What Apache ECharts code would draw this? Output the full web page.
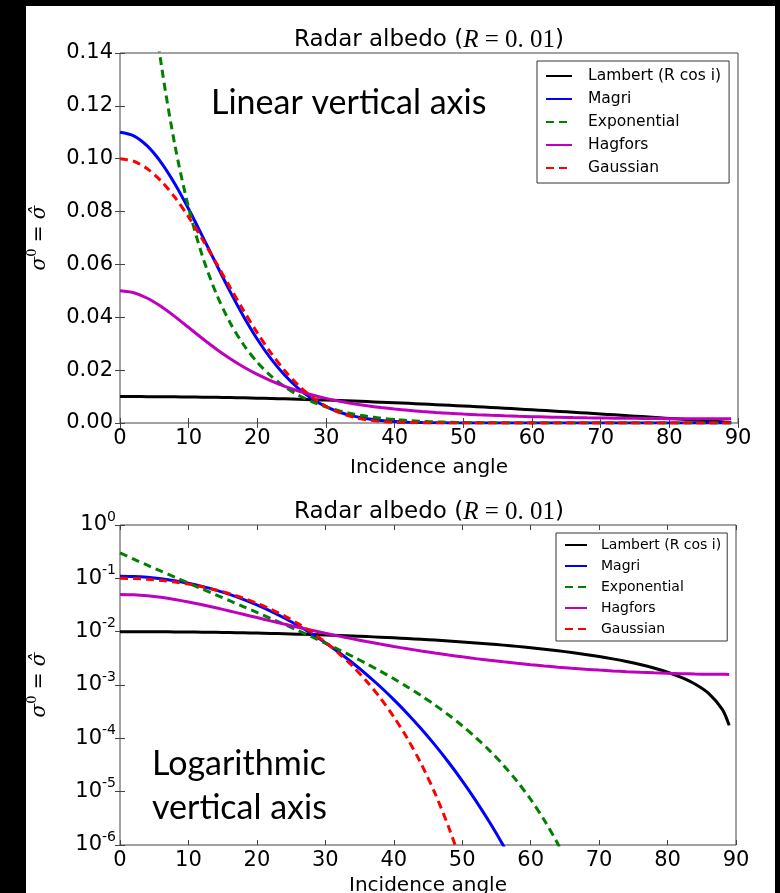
<!DOCTYPE html>
<html><head><meta charset="utf-8">
<script src="https://cdn.jsdelivr.net/npm/echarts@6/dist/echarts.min.js"></script>
<style>html,body{margin:0;padding:0;background:#000;} #c{width:780px;height:893px;}</style>
</head><body><div id="c"></div>
<script>
// Incidence angles (degrees) at which the curves were read
const angles = [0,2,4,6,8,10,12,14,16,18,20,22,24,26,28,30,32,34,36,38,40,42,44,46,48,50,52,54,56,58,60,62,64,66,68,70,72,74,76,78,80,82,84,86,88,89];
const lambert = [0.01,0.009994,0.009976,0.009945,0.009903,0.009848,0.009781,0.009703,0.009613,0.009511,0.009397,0.009272,0.009135,0.008988,0.008829,0.008660,0.008480,0.008290,0.008090,0.007880,0.007660,0.007431,0.007193,0.006947,0.006691,0.006428,0.006157,0.005878,0.005592,0.005299,0.005000,0.004695,0.004384,0.004067,0.003746,0.003420,0.003090,0.002756,0.002419,0.002079,0.001736,0.001392,0.001045,0.000698,0.000349,0.000175];
const magri = [0.11,0.10867,0.10476,0.09856,0.09046,0.08099,0.07071,0.06018,0.04991,0.04032,0.03170,0.02425,0.01803,0.01302,0.009121,0.006194,0.004072,0.002587,0.001587,0.0009374,0.0005325,0.0002902,0.0001513,7.53e-5,3.56e-5,1.595e-5,6.73e-6,2.66e-6,9.83e-7,3.36e-7,1.05e-7,2.98e-8,7.6e-9,0,0,0,0,0,0,0,0,0,0,0,0,0];
const exponential = [0.3,0.22946,0.17624,0.13587,0.10503,0.08138,0.06317,0.04907,0.03812,0.02960,0.02295,0.01775,0.01369,0.01051,0.008030,0.006092,0.004585,0.003418,0.002519,0.001831,0.001310,0.0009198,0.0006320,0.0004232,0.0002747,0.0001720,0.0001033,5.89e-5,3.16e-5,1.573e-5,7.15e-6,2.91e-6,1.03e-6,3.05e-7,7.2e-8,1.26e-8,1.46e-9,9.6e-11,0,0,0,0,0,0,0,0];
const hagfors = [0.05,0.049278,0.047215,0.044087,0.040264,0.036118,0.031959,0.028008,0.024393,0.021179,0.018369,0.015945,0.013872,0.012106,0.010605,0.009330,0.008245,0.007322,0.006534,0.005859,0.005280,0.004781,0.004350,0.003977,0.003652,0.003370,0.003123,0.002907,0.002717,0.002551,0.002405,0.002276,0.002163,0.002064,0.001977,0.001901,0.001836,0.001779,0.001730,0.001689,0.001655,0.001628,0.001607,0.001592,0.001584,0.001581];
const gaussian = [0.1,0.09903,0.09616,0.09153,0.08535,0.07791,0.06953,0.06059,0.05147,0.04253,0.03410,0.02645,0.01978,0.01420,0.009736,0.006343,0.003894,0.002238,0.001190,0.0005793,0.0002541,9.88e-5,3.33e-5,9.46e-6,2.19e-6,3.98e-7,5.35e-8,4.97e-9,2.9e-10,0,0,0,0,0,0,0,0,0,0,0,0,0,0,0,0,0];

const seriesNames = ['Lambert (R cos i)','Magri','Exponential','Hagfors','Gaussian'];
const xRange = [0, 90];
const linRange = [0, 0.14];
const logRange = [1e-6, 1];
const chartTitle = 'Radar albedo';
const xName = 'Incidence angle';

const colors = ['#000000','#0000ff','#008000','#bf00bf','#ff0000'];
const dashed = [false,false,true,false,true];
const values = [lambert, magri, exponential, hagfors, gaussian];

const chart = echarts.init(document.getElementById('c'), null, {renderer:'canvas'});
const frame = '#444';
const tickFont = {fontFamily:'DejaVu Sans', fontSize:21, color:'#000'};

function xAx(grid, pos, showLabel, nameTxt, gap){
  return {type:'value', gridIndex:grid, position:pos, min:xRange[0], max:xRange[1], interval:10,
    axisLine:{show:false}, splitLine:{show:false},
    axisTick:{show:true, inside:true, length:5, lineStyle:{color:frame}},
    axisLabel:Object.assign({show:showLabel, margin:5}, tickFont),
    name: nameTxt || '', nameLocation:'middle', nameGap:gap || 35,
    nameTextStyle:{fontFamily:'DejaVu Sans', fontSize:20, color:'#000'}};
}
const yNameRich = {
  i:{fontFamily:'DejaVu Serif', fontStyle:'italic', fontSize:20, color:'#000'},
  s:{fontFamily:'DejaVu Serif', fontSize:13, color:'#000', verticalAlign:'top'},
  n:{fontFamily:'DejaVu Serif', fontSize:20, color:'#000'}
};
const yNameText = '{i|σ}{s|0}{n| = }{i|σ\u0302}';
function yLin(pos, show){
  return {type:'value', gridIndex:0, position:pos, min:linRange[0], max:linRange[1], interval:0.02,
    axisLine:{show:false}, splitLine:{show:false},
    axisTick:{show:true, inside:true, length:5, lineStyle:{color:frame}},
    axisLabel:Object.assign({show:show, margin:7, formatter:v=>v.toFixed(2)}, tickFont),
    name: show ? yNameText : '', nameLocation:'middle', nameRotate:90, nameGap:66,
    nameTextStyle:{rich:yNameRich, lineHeight:28}};
}
function yLog(pos, show){
  return {type:'log', logBase:10, gridIndex:1, position:pos, min:logRange[0], max:logRange[1], splitNumber:6,
    axisLine:{show:false}, splitLine:{show:false},
    axisTick:{show:true, inside:true, length:5, lineStyle:{color:frame}},
    axisLabel:{show:show, margin:4,
      formatter:v=>'{b|10}{s|' + Math.round(Math.log10(v)) + '}',
      rich:{b:{fontFamily:'DejaVu Sans', fontSize:21, color:'#000', lineHeight:30},
            s:{fontFamily:'DejaVu Sans', fontSize:14, color:'#000', verticalAlign:'top'}}},
    name: show ? yNameText : '', nameLocation:'middle', nameRotate:90, nameGap:66,
    nameTextStyle:{rich:yNameRich, lineHeight:28}};
}

const series = [];
values.forEach((arr, i) => {
  const ls = {color:colors[i], width:3, type: dashed[i] ? [8,5] : 'solid'};
  const common = {name:seriesNames[i], type:'line', showSymbol:false, symbol:'none', clip:true,
    smooth:0.3, lineStyle:ls, itemStyle:{color:colors[i]}};
  series.push(Object.assign({xAxisIndex:0, yAxisIndex:0,
    data: angles.map((a,k)=>[a, arr[k]])}, common));
  series.push(Object.assign({xAxisIndex:2, yAxisIndex:2,
    data: angles.map((a,k)=>[a, arr[k] > 0 ? arr[k] : null])}, common));
});

const titleRich = {
  a:{fontFamily:'DejaVu Sans', fontSize:23, fill:'#000'},
  m:{fontFamily:'Liberation Serif', fontStyle:'italic', fontSize:25, fill:'#000'},
  n:{fontFamily:'Liberation Serif', fontSize:25, fill:'#000'}
};
const titleText = '{a|' + chartTitle + ' (}{m|R}{n| = 0. 01}{a|)}';

const legendCommon = {orient:'vertical', data:seriesNames, borderColor:'#333', borderWidth:1,
  backgroundColor:'#fff', selectedMode:false, itemStyle:{opacity:0, borderWidth:0}};

chart.setOption({
  animation:false,
  backgroundColor:'transparent',
  grid:[
    {left:120, top:53, width:618, height:370, show:true, borderColor:frame, borderWidth:1, backgroundColor:'#fff',
     containLabel:false, outerBoundsMode:'none'},
    {left:120, top:525, width:616, height:320, show:true, borderColor:frame, borderWidth:1, backgroundColor:'#fff',
     containLabel:false, outerBoundsMode:'none'}
  ],
  xAxis:[xAx(0,'bottom',true,xName,35), xAx(0,'top',false), xAx(1,'bottom',true,xName,31), xAx(1,'top',false)],
  yAxis:[yLin('left',true), yLin('right',false), yLog('left',true), yLog('right',false)],
  legend:[
    Object.assign({left:537, top:61, padding:[7,8,7,8], itemGap:7, itemWidth:26, itemHeight:15,
     textStyle:{fontFamily:'DejaVu Sans', fontSize:15.5, color:'#000', padding:[0,0,0,11]}}, legendCommon),
    Object.assign({left:556, top:533, padding:[5,6,5,8], itemGap:7, itemWidth:22, itemHeight:14,
     textStyle:{fontFamily:'DejaVu Sans', fontSize:14, color:'#000', padding:[0,0,0,9]}}, legendCommon)
  ],
  graphic:[
    {type:'rect', z:-10, silent:true, shape:{x:26, y:6, width:749, height:887}, style:{fill:'#fff'}},
    {type:'text', x:429, y:40, style:{text:titleText, rich:titleRich, align:'center', verticalAlign:'middle'}},
    {type:'text', x:429, y:512, style:{text:titleText, rich:titleRich, align:'center', verticalAlign:'middle'}},
    {type:'text', x:211, y:103, z:10, style:{text:'Linear vertical axis', fontFamily:'Lato', fontSize:34, fill:'#000', align:'left', verticalAlign:'middle'}},
    {type:'text', x:152, y:764, z:10, style:{text:'Logarithmic', fontFamily:'Lato', fontSize:34, fill:'#000', align:'left', verticalAlign:'middle'}},
    {type:'text', x:152, y:808, z:10, style:{text:'vertical axis', fontFamily:'Lato', fontSize:34, fill:'#000', align:'left', verticalAlign:'middle'}}
  ],
  series:series
});
</script></body></html>
